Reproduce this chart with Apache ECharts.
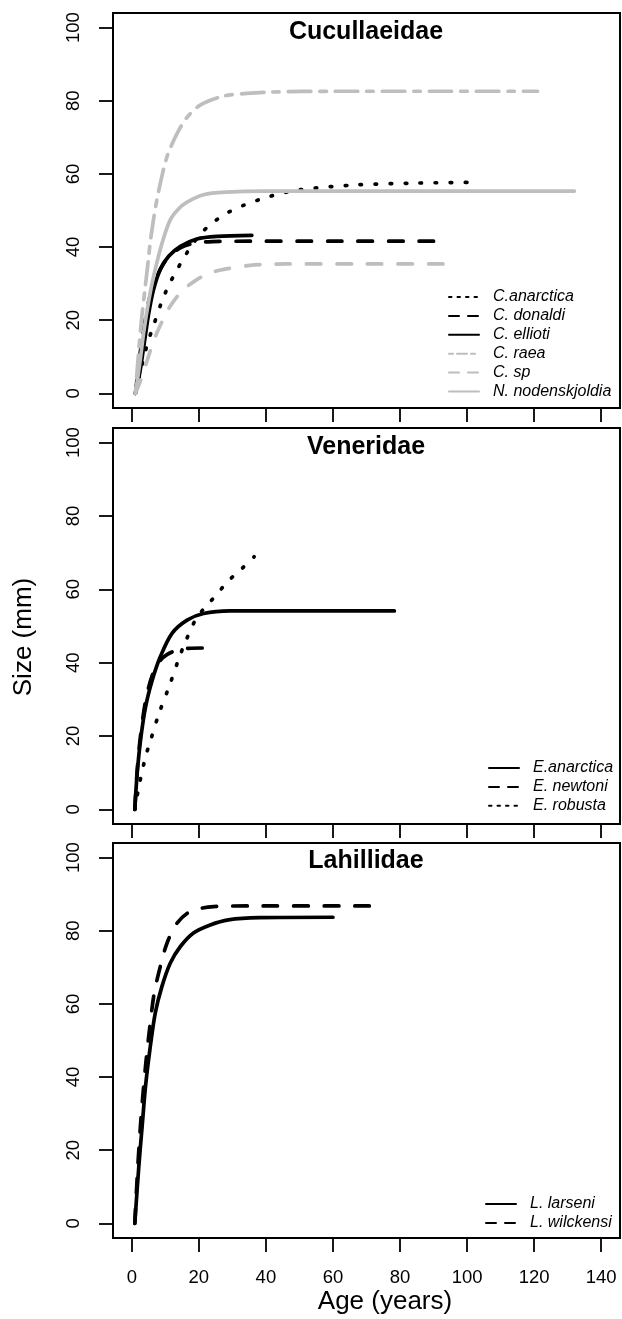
<!DOCTYPE html>
<html>
<head>
<meta charset="utf-8">
<script src="https://cdn.jsdelivr.net/npm/echarts@6/dist/echarts.min.js"></script>
<style>
html,body{margin:0;padding:0;background:#fff;}
#chart{width:622px;height:1319px;}
</style>
</head>
<body>
<div id="chart"></div>
<script>
// ---- data (age in years, size in mm) ----
const xTicks = [0, 20, 40, 60, 80, 100, 120, 140];
const yTicks = [0, 20, 40, 60, 80, 100];
const panelTitles = ['Cucullaeidae', 'Veneridae', 'Lahillidae'];

// Cucullaeidae
const cAnarctica = [[1.1,0],[2.4,5.3],[4.6,13.4],[6.1,17.5],[9,25.2],[11,29.5],[13.5,33.8],[15.5,37],[18,40.6],[20.9,44],[24.9,47.2],[28.8,49.5],[33.3,51.4],[37.8,52.9],[41.7,54],[49.4,55.6],[67,57],[85,57.5],[101,57.7]];
const cDonaldi = [[1.1,0],[2.5,11],[4,20],[5,25],[6.5,29.5],[9,34.8],[11.5,37.8],[14.5,39.8],[18.4,41],[24,41.5],[35,41.6],[60,41.6],[92,41.6]];
const cEllioti = [[1.1,0],[2.4,5.7],[3.6,13],[5.1,22.1],[6.5,28.4],[8.5,33.9],[11,37.5],[14.5,40.2],[19.4,42.2],[25.4,42.9],[35.8,43.2]];
const cRaea = [[1.1,0],[2,11],[3,21],[4,29],[5,37],[5.6,42],[7.5,53],[10.5,64.7],[13.5,71],[16.5,75.5],[20.4,78.8],[27.4,81.3],[34.3,82],[42,82.4],[60,82.6],[90,82.6],[121,82.6]];
const cSp = [[1.1,0],[2.6,3.5],[4.6,9],[6,13],[7.5,16.6],[9.5,20.5],[11.5,23.9],[15,28],[19.4,31.1],[23,32.8],[27.4,33.9],[35.3,35],[46,35.4],[70,35.4],[93,35.4]];
const nNodenskjoldia = [[1.1,0],[2.5,9],[3.6,17],[5,25],[6.5,32],[9,41],[11.5,47.5],[14,50.5],[16.5,52.3],[21.4,54.3],[28,55],[40,55.3],[80,55.3],[132,55.3]];

// Veneridae
const eAnarctica = [[0.9,0],[1.6,9.7],[2.6,18.8],[4.1,27.9],[6.1,35.2],[8.5,41.6],[12,48],[16.5,51.6],[21.4,53.4],[29.3,54.1],[50,54.1],[78.3,54.1]];
const eNewtoni = [[0.9,0],[1.6,10.5],[2.6,20],[4.1,29.5],[6.1,36.5],[8.5,40.6],[10.5,42.2],[13.5,43.4],[17,43.9],[21.7,44]];
const eRobusta = [[0.9,0],[2.1,6.1],[4.1,14.3],[5.6,18.8],[8.1,26.1],[11.1,33.4],[14,41],[16,45.7],[19.4,52.3],[23.4,56.6],[26.4,59.8],[28.8,62.3],[32.9,65.7],[36.5,68.9]];

// Lahillidae
const lLarseni = [[0.9,0],[2.1,15.6],[3.1,26.6],[4.1,37.5],[5.4,47.5],[7,57.5],[9,64.8],[11.5,71.2],[14.5,75.7],[18.4,79.4],[23.4,81.6],[28.8,83],[38,83.6],[60,83.7]];
const lWilckensi = [[0.9,0],[1.8,15.6],[2.8,29.3],[4.1,43],[5.4,53.9],[6.7,63],[8.5,70.2],[10.5,76.6],[13.5,82.1],[17.5,85.3],[24.4,86.6],[35,86.8],[71.8,86.8]];

// ---- styles ----
const BLACK = '#000000';
const GRAY = '#bebebe';
const LW = 3.7;
const DASH = {
  solid: 'solid',
  dashed: [14.5, 16],
  dotted: [1.5, 13.5],
  twodash: [6.5, 9, 22.5, 9]
};
const LEG_DASH = {
  solid: 'solid',
  dashed: [10, 9],
  dotted: [2.5, 6],
  twodash: [4, 4, 10, 4]
};
const FONT = '"Liberation Sans", Arial, sans-serif';

const seriesDefs = [
  {name: 'C.anarctica', data: cAnarctica, panel: 0, color: BLACK, dash: 'dotted'},
  {name: 'C. donaldi', data: cDonaldi, panel: 0, color: BLACK, dash: 'dashed'},
  {name: 'C. ellioti', data: cEllioti, panel: 0, color: BLACK, dash: 'solid'},
  {name: 'C. raea', data: cRaea, panel: 0, color: GRAY, dash: 'twodash'},
  {name: 'C. sp', data: cSp, panel: 0, color: GRAY, dash: 'dashed'},
  {name: 'N. nodenskjoldia', data: nNodenskjoldia, panel: 0, color: GRAY, dash: 'solid'},
  {name: 'E.anarctica', data: eAnarctica, panel: 1, color: BLACK, dash: 'solid'},
  {name: 'E. newtoni', data: eNewtoni, panel: 1, color: BLACK, dash: 'dashed'},
  {name: 'E. robusta', data: eRobusta, panel: 1, color: BLACK, dash: 'dotted'},
  {name: 'L. larseni', data: lLarseni, panel: 2, color: BLACK, dash: 'solid'},
  {name: 'L. wilckensi', data: lWilckensi, panel: 2, color: BLACK, dash: 'dashed'}
];

const gridTops = [13, 428, 843];
const gridH = [395, 396, 395];
const legendPos = [{left: 448, top: 289}, {left: 488, top: 760}, {left: 485, top: 1196}];
const titleTops = [20, 435, 849];

const grids = [], xAxes = [], yAxes = [], legends = [], titles = [];
for (let i = 0; i < 3; i++) {
  grids.push({left: 113, top: gridTops[i], width: 507, height: gridH[i], show: true,
    borderColor: BLACK, borderWidth: 2, backgroundColor: 'transparent'});
  xAxes.push({type: 'value', gridIndex: i, min: -5.6, max: 145.6, position: 'bottom',
    axisLine: {show: false, onZero: false},
    axisTick: {show: true, inside: false, length: 14, customValues: xTicks, lineStyle: {color: BLACK, width: 1.8}},
    axisLabel: {show: i === 2, customValues: xTicks, margin: 30, color: BLACK, fontSize: 18.5, fontFamily: FONT},
    splitLine: {show: false}});
  yAxes.push({type: 'value', gridIndex: i, min: -4, max: 104, position: 'left',
    axisLine: {show: false, onZero: false},
    axisTick: {show: true, inside: false, length: 14, customValues: yTicks, lineStyle: {color: BLACK, width: 1.8}},
    axisLabel: {show: true, customValues: yTicks, rotate: 90, margin: 30, color: BLACK, fontSize: 18.5,
      fontFamily: FONT, align: 'center', verticalAlign: 'bottom'},
    splitLine: {show: false}});
  const defs = seriesDefs.filter(s => s.panel === i);
  legends.push({
    orient: 'vertical', left: legendPos[i].left, top: legendPos[i].top, padding: 0,
    itemWidth: 30, itemHeight: 14, itemGap: 2.9, selectedMode: false,
    textStyle: {color: BLACK, fontSize: 16, fontStyle: 'italic', fontFamily: FONT, lineHeight: 14, padding: [0, 0, 0, 9]},
    data: defs.map(s => ({name: s.name,
      itemStyle: {color: 'rgba(0,0,0,0)', borderWidth: 0, opacity: 0},
      lineStyle: {color: s.color, width: 2, type: LEG_DASH[s.dash]}}))
  });
  titles.push({text: panelTitles[i], left: 366, top: titleTops[i], textAlign: 'center', padding: 0,
    textStyle: {fontSize: 25, fontWeight: 'bold', color: BLACK, fontFamily: FONT}});
}

const series = seriesDefs.map(s => ({
  name: s.name, type: 'line', xAxisIndex: s.panel, yAxisIndex: s.panel,
  data: s.data, symbol: 'none', smooth: 0.3,
  lineStyle: {color: s.color, width: LW, type: DASH[s.dash], cap: 'round', join: 'round'},
  itemStyle: {color: s.color},
  animation: false
}));

const chart = echarts.init(document.getElementById('chart'), null, {renderer: 'canvas'});
chart.setOption({
  animation: false,
  backgroundColor: '#ffffff',
  title: titles,
  grid: grids,
  xAxis: xAxes,
  yAxis: yAxes,
  legend: legends,
  series: series,
  graphic: [
    {type: 'text', x: 24, y: 637, rotation: Math.PI / 2,
      style: {text: 'Size (mm)', fontSize: 26, fontFamily: FONT, fill: BLACK, align: 'center', verticalAlign: 'middle'}},
    {type: 'text', x: 385, y: 1302,
      style: {text: 'Age (years)', fontSize: 26, fontFamily: FONT, fill: BLACK, align: 'center', verticalAlign: 'middle'}}
  ]
});
</script>
</body>
</html>
